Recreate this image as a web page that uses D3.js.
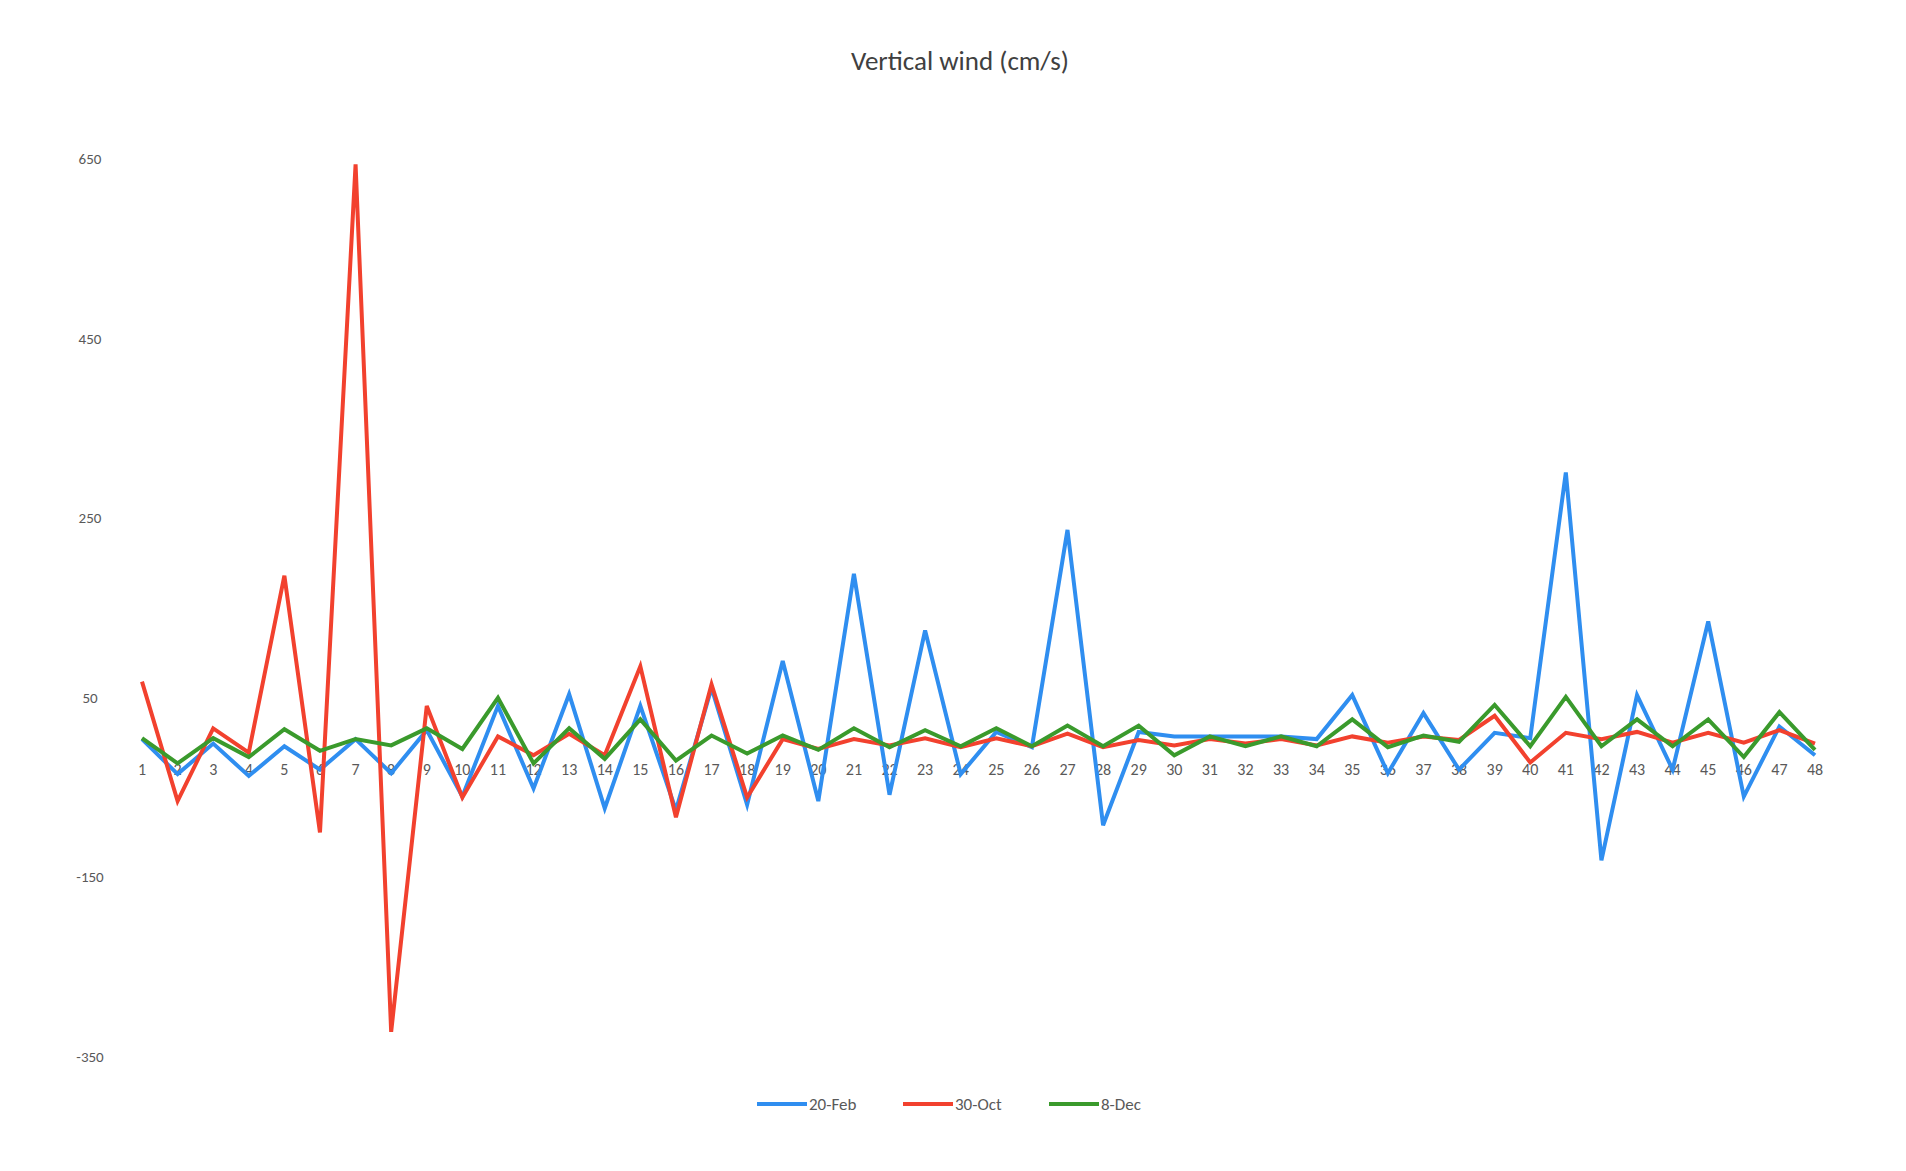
<!DOCTYPE html>
<html lang="en">
<head>
<meta charset="utf-8">
<title>Vertical wind (cm/s)</title>
<script src="https://cdn.jsdelivr.net/npm/d3@7"></script>
<style>
  body { margin: 0; background: #fff; }
  text { font-family: Calibri, Carlito, "Open Sans", sans-serif; fill: #595959; }
</style>
</head>
<body>
<script>
// data
var hours = d3.range(1, 49);
var feb20 = [4,-35,-1,-37,-4,-30,4,-34,14,-60,41,-51,54,-73,41,-75,61,-69,91,-65,188,-58,125,-35,12,-5,237,-92,12,7,7,7,7,4,53,-34,33,-30,11,5,301,-131,53,-30,135,-60,18,-14];
var oct30 = [68,-65,16,-11,186,-100,644,-322,41,-61,7,-14,10,-14,85,-83,65,-61,4,-7,4,-3,5,-5,5,-4,10,-5,3,-3,4,-1,4,-3,7,0,7,3,30,-22,11,4,12,0,11,0,14,-1];
var dec8 = [5,-23,5,-16,15,-9,4,-3,16,-7,50,-23,16,-18,26,-20,8,-12,8,-8,16,-5,14,-4,16,-4,19,-4,19,-14,7,-4,7,-4,26,-5,8,1,42,-4,51,-4,26,-4,26,-16,34,-8];
var yTicks = [-350, -150, 50, 250, 450, 650];
var seriesNames = ["20-Feb", "30-Oct", "8-Dec"];
var colors = ["#2f8ef0", "#f2412e", "#3a9a2c"];

var w = 1906, h = 1171;
var svg = d3.select("body").append("svg").attr("width", w).attr("height", h);

var x = d3.scalePoint().domain(hours).range([142, 1815]);
var y = d3.scaleLinear().domain([-350, 650]).range([1057, 159]);

svg.append("text").attr("x", 960).attr("y", 70).attr("text-anchor", "middle")
  .style("font-size", "27px").style("fill", "#404040").text("Vertical wind (cm/s)");

// y labels
svg.selectAll(".ylab").data(yTicks).enter().append("text")
  .attr("x", 90).attr("y", function(d){ return y(d) + 5; })
  .attr("text-anchor", "middle").style("font-size", "15px").text(function(d){ return d; });

// x labels sit below the zero line
svg.selectAll(".xlab").data(hours).enter().append("text")
  .attr("x", function(d){ return x(d); }).attr("y", y(0) + 32)
  .attr("text-anchor", "middle").style("font-size", "16px").text(function(d){ return d; });

var line = d3.line().x(function(d, i){ return x(hours[i]); }).y(function(d){ return y(d); });
[feb20, oct30, dec8].forEach(function(s, i){
  svg.append("path").datum(s).attr("d", line).attr("fill", "none")
    .attr("stroke", colors[i]).attr("stroke-width", 4).attr("stroke-linejoin", "miter");
});

// legend
var lg = svg.selectAll(".lg").data(seriesNames).enter().append("g")
  .attr("transform", function(d, i){ return "translate(" + (757 + i * 146) + ",1104)"; });
lg.append("line").attr("x1", 0).attr("x2", 50).attr("stroke", function(d, i){ return colors[i]; }).attr("stroke-width", 4);
lg.append("text").attr("x", 52).attr("y", 6).style("font-size", "17px").text(function(d){ return d; });
</script>
</body>
</html>
